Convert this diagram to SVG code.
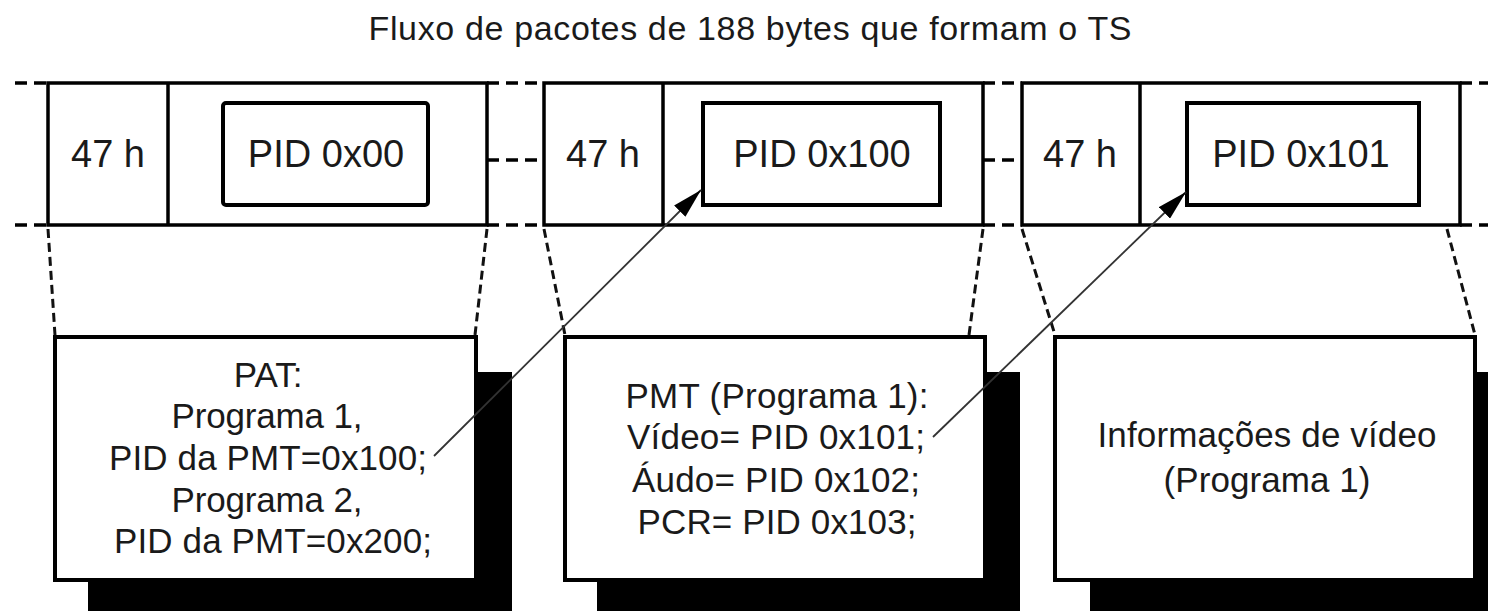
<svg xmlns="http://www.w3.org/2000/svg" width="1488" height="611" viewBox="0 0 1488 611">
  <defs>
    <marker id="arrowhead" viewBox="0 0 30 16" refX="30" refY="8" markerWidth="30" markerHeight="16" markerUnits="userSpaceOnUse" orient="auto">
      <path d="M0,0 L30,8 L0,16 z" fill="#000"/>
    </marker>
  </defs>
  <style>
    .txt { font-family: "Liberation Sans", Arial, Helvetica, sans-serif; fill: #1a1a1a; text-anchor: middle; }
    .pkt { font-size: 38px; }
    .tbl { font-size: 35px; }
    .frame { fill: #fff; stroke: #000; stroke-width: 3.5; }
    .inner { fill: #fff; stroke: #000; stroke-width: 4; }
    .div { stroke: #000; stroke-width: 3.5; }
    .shadow { fill: #000; }
    .box { fill: #fff; stroke: #000; stroke-width: 4; }
    .join { stroke: #000; stroke-width: 3.5; stroke-dasharray: 12 7; fill: none; }
    .proj { stroke: #111; stroke-width: 3; stroke-dasharray: 9 5; fill: none; }
    .arrow { stroke: #333; stroke-width: 1.8; fill: none; marker-end: url(#arrowhead); }
  </style>
  <rect width="1488" height="611" fill="#fff"/>

  <text id="title" class="txt" x="750" y="40" font-size="34" textLength="763">Fluxo de pacotes de 188 bytes que formam o TS</text>

  <g id="packet1">
    <rect class="frame" x="48" y="83" width="439" height="142"/>
    <line class="div" x1="168" y1="83" x2="168" y2="225" stroke-width="5.5"/>
    <text class="txt pkt" x="108" y="167">47 h</text>
    <rect class="inner" x="223" y="103" width="205" height="102" rx="3"/>
    <text class="txt pkt" x="326" y="167">PID 0x00</text>
  </g>

  <g id="packet2">
    <rect class="frame" x="544" y="83" width="439" height="142"/>
    <line class="div" x1="663" y1="83" x2="663" y2="225"/>
    <text class="txt pkt" x="603" y="167">47 h</text>
    <rect class="inner" x="703" y="103" width="237" height="102"/>
    <text class="txt pkt" x="822" y="167">PID 0x100</text>
  </g>

  <g id="packet3">
    <rect class="frame" x="1022" y="83" width="438" height="142"/>
    <line class="div" x1="1140" y1="83" x2="1140" y2="225"/>
    <text class="txt pkt" x="1080" y="167">47 h</text>
    <rect class="inner" x="1187" y="103" width="232" height="102"/>
    <text class="txt pkt" x="1301" y="167">PID 0x101</text>
  </g>

  <g id="pat">
    <rect class="shadow" x="88" y="372" width="424" height="260"/>
    <rect class="box" x="55" y="337" width="421" height="243"/>
    <text class="txt tbl" x="268" y="387">PAT:</text>
    <text class="txt tbl" x="267" y="428" textLength="191">Programa 1,</text>
    <text class="txt tbl" x="268" y="470" textLength="318">PID da PMT=0x100;</text>
    <text class="txt tbl" x="267" y="512" textLength="191">Programa 2,</text>
    <text class="txt tbl" x="273" y="553" textLength="318">PID da PMT=0x200;</text>
  </g>

  <g id="pmt">
    <rect class="shadow" x="597" y="372" width="423" height="260"/>
    <rect class="box" x="565" y="337" width="420" height="243"/>
    <text class="txt tbl" x="777" y="408" textLength="303">PMT (Programa 1):</text>
    <text class="txt tbl" x="776" y="449" textLength="298">Vídeo= PID 0x101;</text>
    <text class="txt tbl" x="776" y="492" textLength="288">Áudo= PID 0x102;</text>
    <text class="txt tbl" x="777" y="534" textLength="279">PCR= PID 0x103;</text>
  </g>

  <g id="info">
    <rect class="shadow" x="1090" y="372" width="424" height="260"/>
    <rect class="box" x="1055" y="337" width="420" height="243"/>
    <text class="txt tbl" x="1267" y="447" textLength="339">Informações de vídeo</text>
    <text class="txt tbl" x="1267" y="492" textLength="207">(Programa 1)</text>
  </g>

  <g id="connectors">
    <path class="join" d="M15,83 H48 M487,83 H544 M983,83 H1022 M1460,83 H1488"/>
    <path class="join" d="M15,225 H48 M487,225 H544 M983,225 H1022 M1460,225 H1488"/>
    <path class="join" d="M487,160 H544 M983,160 H1022"/>
    <line class="proj" x1="48" y1="229" x2="55" y2="335"/>
    <line class="proj" x1="487" y1="229" x2="475" y2="335"/>
    <line class="proj" x1="544" y1="229" x2="565" y2="335"/>
    <line class="proj" x1="983" y1="229" x2="969" y2="335"/>
    <line class="proj" x1="1022" y1="229" x2="1055" y2="335"/>
    <line class="proj" x1="1447" y1="229" x2="1475" y2="335"/>
    <line class="arrow" x1="434" y1="456" x2="701" y2="190"/>
    <line class="arrow" x1="933" y1="437" x2="1186" y2="192"/>
  </g>
</svg>
